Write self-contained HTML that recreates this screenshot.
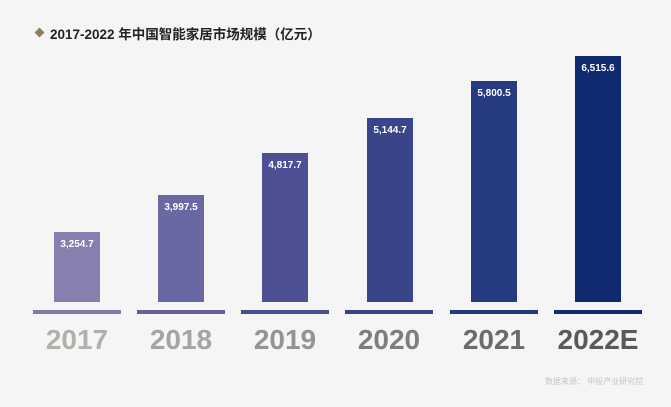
<!DOCTYPE html><html><head><meta charset="utf-8"><style>
body{margin:0;width:671px;height:407px;background:#f5f5f6;position:relative;overflow:hidden;font-family:"Liberation Sans","Noto Sans CJK SC",sans-serif}
.t{position:absolute;left:50px;top:23px;font-size:13.5px;font-weight:bold;color:#222;white-space:nowrap}
.d{position:absolute;left:36px;top:29px;width:7px;height:7px;background:#8f7f5e;transform:rotate(45deg)}
.b{position:absolute;width:46px;bottom:105px;color:#fff;font-size:10px;font-weight:bold;text-align:center;padding-top:7px;box-sizing:border-box}
.l{position:absolute;top:310px;height:4px;width:88px}
.y{position:absolute;top:324px;width:88px;text-align:center;font-size:28px;font-weight:bold}
.s{position:absolute;left:545px;top:376px;font-size:8px;color:#c5c5c5}
</style></head><body>
<div class="d"></div><div class="t">2017-2022 年中国智能家居市场规模（亿元）</div>
<div class="b" style="left:54px;top:232px;background:#8580b0">3,254.7</div>
<div class="b" style="left:158px;top:195px;background:#6a68a2">3,997.5</div>
<div class="b" style="left:262px;top:153px;background:#4d5092">4,817.7</div>
<div class="b" style="left:367px;top:118px;background:#3a4488">5,144.7</div>
<div class="b" style="left:471px;top:81px;background:#253a80">5,800.5</div>
<div class="b" style="left:575px;top:56px;background:#102a72">6,515.6</div>
<div class="l" style="left:33px;background:#7f7ba8"></div>
<div class="l" style="left:137px;background:#64629c"></div>
<div class="l" style="left:241px;background:#4a4d8e"></div>
<div class="l" style="left:345px;background:#374286"></div>
<div class="l" style="left:450px;background:#24397e"></div>
<div class="l" style="left:554px;background:#112a70"></div>
<div class="y" style="left:33px;color:#b3afab">2017</div>
<div class="y" style="left:137px;color:#a7a3a0">2018</div>
<div class="y" style="left:241px;color:#96928f">2019</div>
<div class="y" style="left:345px;color:#817d7b">2020</div>
<div class="y" style="left:450px;color:#6e6a68">2021</div>
<div class="y" style="left:554px;color:#5d5957">2022E</div>
<div class="s">数据来源： 中投产业研究院</div>
</body></html>
